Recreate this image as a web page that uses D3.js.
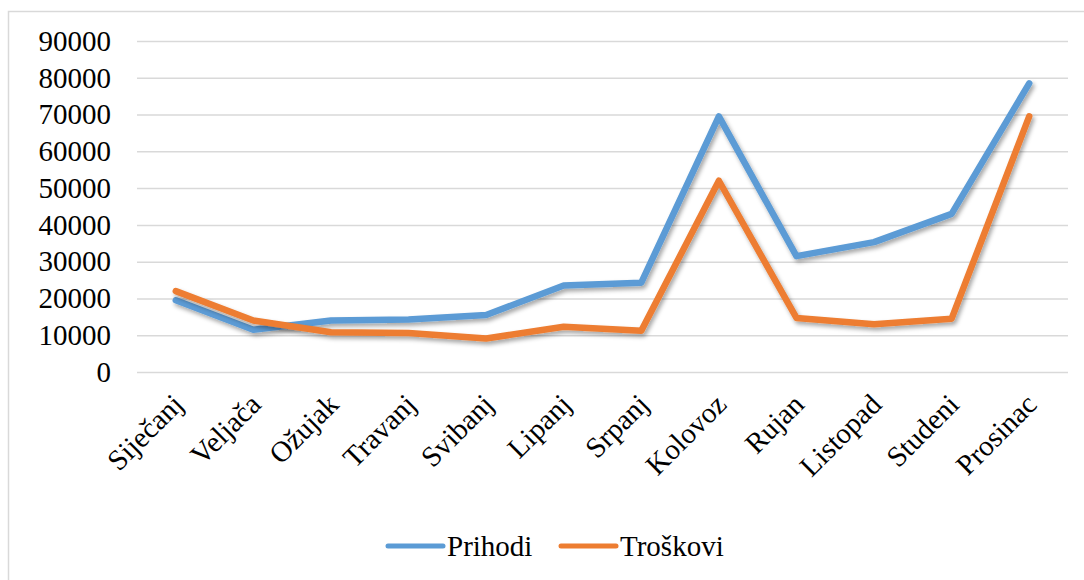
<!DOCTYPE html>
<head>
  <meta charset="utf-8">
  <title>Prihodi i troškovi</title>
  <script src="https://d3js.org/d3.v7.min.js"></script>
  <style>
    body { margin:0; background:#fff; }
    svg { display:block; }
    text { font-family:"Liberation Serif","Times New Roman",serif; }
  </style>
</head>

<body>
  <svg width="1084" height="580"></svg>
  <script>
    var months = ['Siječanj', 'Veljača', 'Ožujak', 'Travanj', 'Svibanj', 'Lipanj',
      'Srpanj', 'Kolovoz', 'Rujan', 'Listopad', 'Studeni', 'Prosinac'];
    var prihodi = [19500, 11500, 14000, 14300, 15500, 23500, 24300, 69500, 31500, 35300, 43000, 78500];
    var troskovi = [22000, 14000, 10800, 10600, 9100, 12300, 11200, 52000, 14700, 13000, 14500, 69500];
    var yTicks = [0, 10000, 20000, 30000, 40000, 50000, 60000, 70000, 80000, 90000];

    var series = [
      { name: 'Prihodi', values: prihodi, color: '#5b9bd5' },
      { name: 'Troškovi', values: troskovi, color: '#ed7d31' }
    ];

    var svg = d3.select('svg');
    var plotLeft = 137, plotRight = 1068, plotTop = 41, plotBottom = 372;
    var serif = '"Liberation Serif","Times New Roman",serif';

    // chart frame (runs off the right and bottom of the picture)
    svg.append('rect')
      .attr('x', 8.5).attr('y', 11.5)
      .attr('width', 1100).attr('height', 600)
      .attr('fill', 'none').attr('stroke', '#d9d9d9').attr('stroke-width', 1.5);

    var defs = svg.append('defs');
    defs.append('filter').attr('id', 'shadow')
      .attr('x', '-10%').attr('y', '-10%').attr('width', '120%').attr('height', '130%')
      .append('feDropShadow')
      .attr('dx', 2).attr('dy', 3).attr('stdDeviation', 2)
      .attr('flood-color', '#000').attr('flood-opacity', 0.35);

    var x = d3.scaleBand().domain(months).range([plotLeft, plotRight]);
    var y = d3.scaleLinear().domain([0, 90000]).range([plotBottom, plotTop]);

    // gridlines + y labels
    var yAxis = svg.append('g')
      .attr('transform', 'translate(' + plotLeft + ',0)')
      .call(d3.axisLeft(y).tickValues(yTicks).tickSize(-(plotRight - plotLeft)).tickPadding(26).tickFormat(d3.format('d')));
    yAxis.attr('font-family', serif).attr('font-size', 29);
    yAxis.select('.domain').remove();
    yAxis.selectAll('.tick line').attr('stroke', '#d9d9d9').attr('stroke-width', 1.5);
    yAxis.selectAll('.tick text')
      .attr('fill', '#000')
      .style('font-family', serif)
      .style('font-size', '29px');

    // x labels, rotated
    svg.append('g').selectAll('text')
      .data(months)
      .join('text')
      .attr('transform', d => 'translate(' + (x(d) + x.bandwidth() / 2 + 2) + ',399) rotate(-45)')
      .attr('text-anchor', 'end')
      .attr('dy', '0.35em')
      .attr('font-size', 29)
      .text(d => d);

    var line = d3.line()
      .x((d, i) => x(months[i]) + x.bandwidth() / 2)
      .y(d => y(d));

    svg.append('g').selectAll('path')
      .data(series)
      .join('path')
      .attr('d', d => line(d.values))
      .attr('fill', 'none')
      .attr('stroke', d => d.color)
      .attr('stroke-width', 6.5)
      .attr('stroke-linejoin', 'round')
      .attr('stroke-linecap', 'round')
      .attr('filter', 'url(#shadow)');

    // legend
    var legend = svg.append('g').selectAll('g')
      .data(series)
      .join('g')
      .attr('transform', (d, i) => 'translate(' + (388 + i * 173) + ',546)');
    legend.append('line')
      .attr('x1', 0).attr('x2', 55)
      .attr('stroke', d => d.color).attr('stroke-width', 5).attr('stroke-linecap', 'round');
    legend.append('text')
      .attr('x', 59).attr('dy', '0.35em')
      .attr('font-size', 29)
      .text(d => d.name);
  </script>
</body>
